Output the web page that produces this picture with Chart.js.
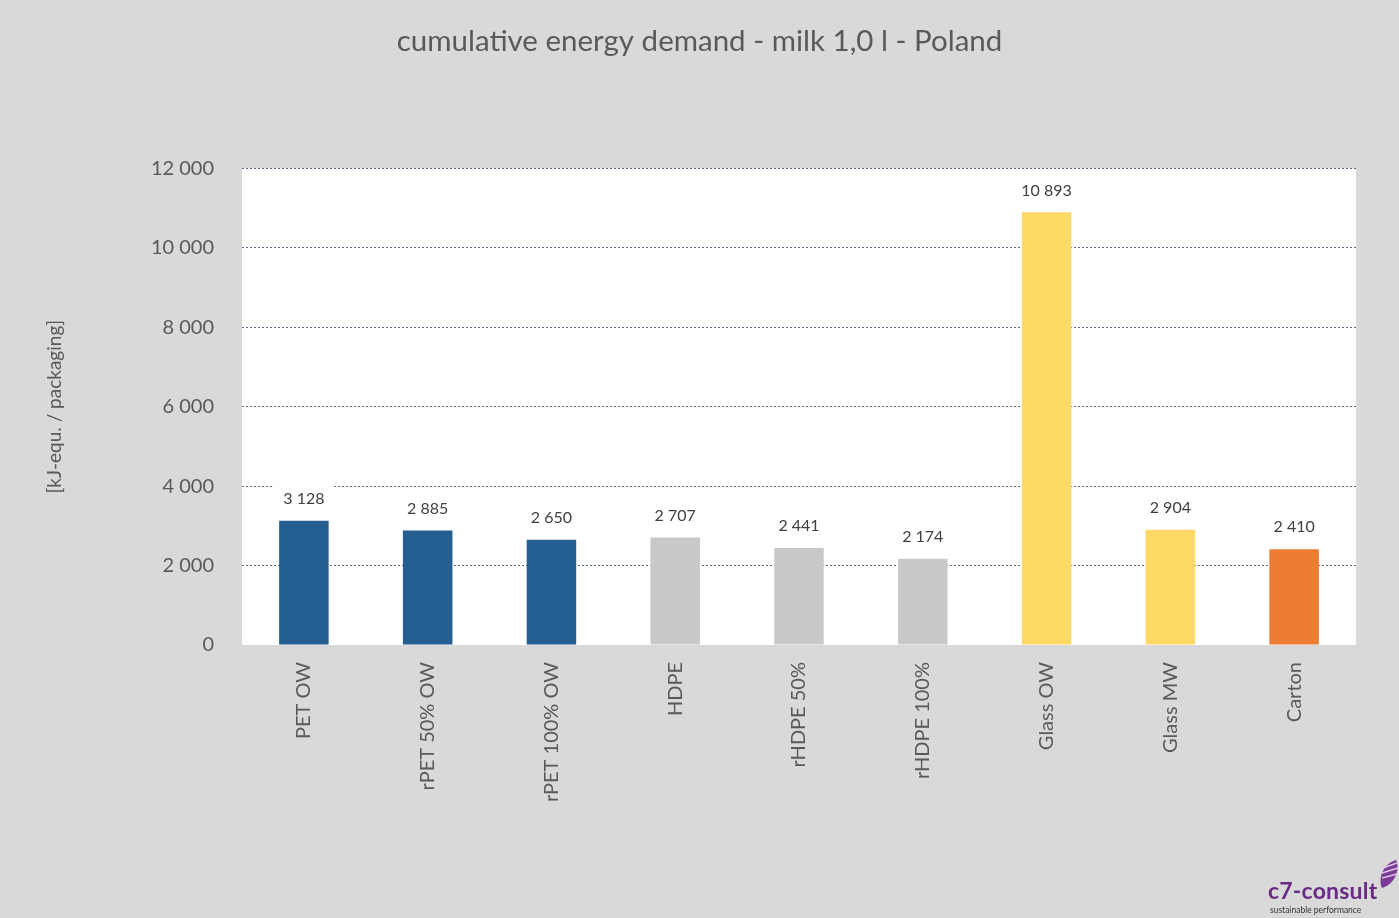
<!DOCTYPE html>
<html>
<head>
<meta charset="utf-8">
<script src="https://cdn.jsdelivr.net/npm/chart.js@4.4.1/dist/chart.umd.min.js"></script>
<style>
  html, body { margin: 0; padding: 0; background: #d9d9d9; }
  #wrap { position: relative; width: 1399px; height: 918px; }
  #logo { position: absolute; left: 1268px; top: 858px; width: 131px; height: 60px; font-family: Lato, "Open Sans", sans-serif; }
  #logo .name { position: absolute; left: 0; top: 18px; font-size: 23px; font-weight: bold; color: #6a2a85; letter-spacing: 0.2px; }
  #logo .sub { position: absolute; left: 2px; top: 47px; font-size: 8.5px; color: #333; white-space: nowrap; }
</style>
</head>
<body>
<div id="wrap">
  <canvas id="chart" width="1399" height="918"></canvas>
  <div id="logo">
    <svg style="position:absolute;left:108px;top:0" width="24" height="34" viewBox="0 0 24 34">
      <path d="M6 30 C 2 22, 6 6, 20 2 C 24 10, 20 26, 6 30 Z" fill="#7b3a96"/>
      <path d="M7 10 L 21 5 M6 15 L 22 10 M6 20 L 21 16" stroke="#d9c4e0" stroke-width="1.6"/>
    </svg>
    <div class="name">c7-consult</div>
    <div class="sub">sustainable performance</div>
  </div>
</div>
<script>
// === DATA ===
const categories = ['PET OW', 'rPET 50% OW', 'rPET 100% OW', 'HDPE', 'rHDPE 50%', 'rHDPE 100%', 'Glass OW', 'Glass MW', 'Carton'];
const values = [3128, 2885, 2650, 2707, 2441, 2174, 10893, 2904, 2410];
const barColors = ['#255e91', '#255e91', '#255e91', '#c9c9c9', '#c9c9c9', '#c9c9c9', '#ffd966', '#ffd966', '#ed7d31'];
const yTicks = [0, 2000, 4000, 6000, 8000, 10000, 12000];

const FONT = 'Lato, "Open Sans", sans-serif';

// thousands with a space: 10893 -> "10 893"
const fmt = v => String(v).replace(/\B(?=(\d{3})+(?!\d))/g, ' ');

// === PLOT AREA BACKGROUND ===
const plotBg = {
  id: 'plotBg',
  beforeDraw(chart) {
    const { ctx, chartArea: a } = chart;
    ctx.save();
    ctx.fillStyle = '#d9d9d9';
    ctx.fillRect(0, 0, chart.width, chart.height);
    ctx.fillStyle = '#ffffff';
    ctx.fillRect(a.left, a.top, a.right - a.left, a.bottom - a.top);
    ctx.restore();
  }
};

// === VALUE LABELS (white box behind, like Excel) ===
const valueLabels = {
  id: 'valueLabels',
  afterDatasetsDraw(chart) {
    const { ctx } = chart;
    const meta = chart.getDatasetMeta(0);
    ctx.save();
    ctx.font = '16px ' + FONT;
    ctx.textAlign = 'center';
    ctx.textBaseline = 'middle';
    meta.data.forEach((bar, i) => {
      const txt = fmt(values[i]);
      const y = bar.y - 22;
      const w = ctx.measureText(txt).width + 18;
      ctx.fillStyle = '#ffffff';
      ctx.fillRect(bar.x - w / 2, y - 13, w, 26);
      ctx.fillStyle = '#404040';
      ctx.fillText(txt, bar.x, y);
    });
    ctx.restore();
  }
};

new Chart(document.getElementById('chart'), {
  type: 'bar',
  data: {
    labels: categories,
    datasets: [{
      data: values,
      backgroundColor: barColors,
      borderWidth: 0,
      barPercentage: 0.4,
      categoryPercentage: 1
    }]
  },
  options: {
    responsive: false,
    animation: false,
    layout: { padding: { left: 43, right: 43, top: 0, bottom: 0 } },
    plugins: {
      legend: { display: false },
      tooltip: { enabled: false },
      title: {
        display: true,
        text: 'cumulative energy demand - milk 1,0 l - Poland',
        color: '#595959',
        font: { family: FONT, size: 29.5, weight: 'normal' },
        padding: { top: 24, bottom: 109 }
      }
    },
    scales: {
      x: {
        grid: { display: false },
        border: { display: false },
        ticks: {
          color: '#595959',
          font: { family: FONT, size: 20 },
          minRotation: 90,
          maxRotation: 90,
          padding: 9
        },
        afterFit(scale) { scale.height = 273; }
      },
      y: {
        min: 0,
        max: 12000,
        afterBuildTicks(scale) { scale.ticks = yTicks.map(v => ({ value: v })); },
        grid: {
          drawTicks: false,
          color: ctx => ctx.tick && ctx.tick.value === 0 ? 'rgba(0,0,0,0)' : '#5b6b82',
          lineWidth: 1
        },
        border: { display: false, dash: [2, 2] },
        ticks: {
          color: '#595959',
          font: { family: FONT, size: 20 },
          padding: 28,
          callback: v => fmt(v)
        },
        title: {
          display: true,
          text: '[kJ-equ. / packaging]',
          color: '#595959',
          font: { family: FONT, size: 19 },
          padding: { top: 0, bottom: 0 }
        },
        afterFit(scale) { scale.width = 199; }
      }
    }
  },
  plugins: [plotBg, valueLabels]
});
</script>
</body>
</html>
